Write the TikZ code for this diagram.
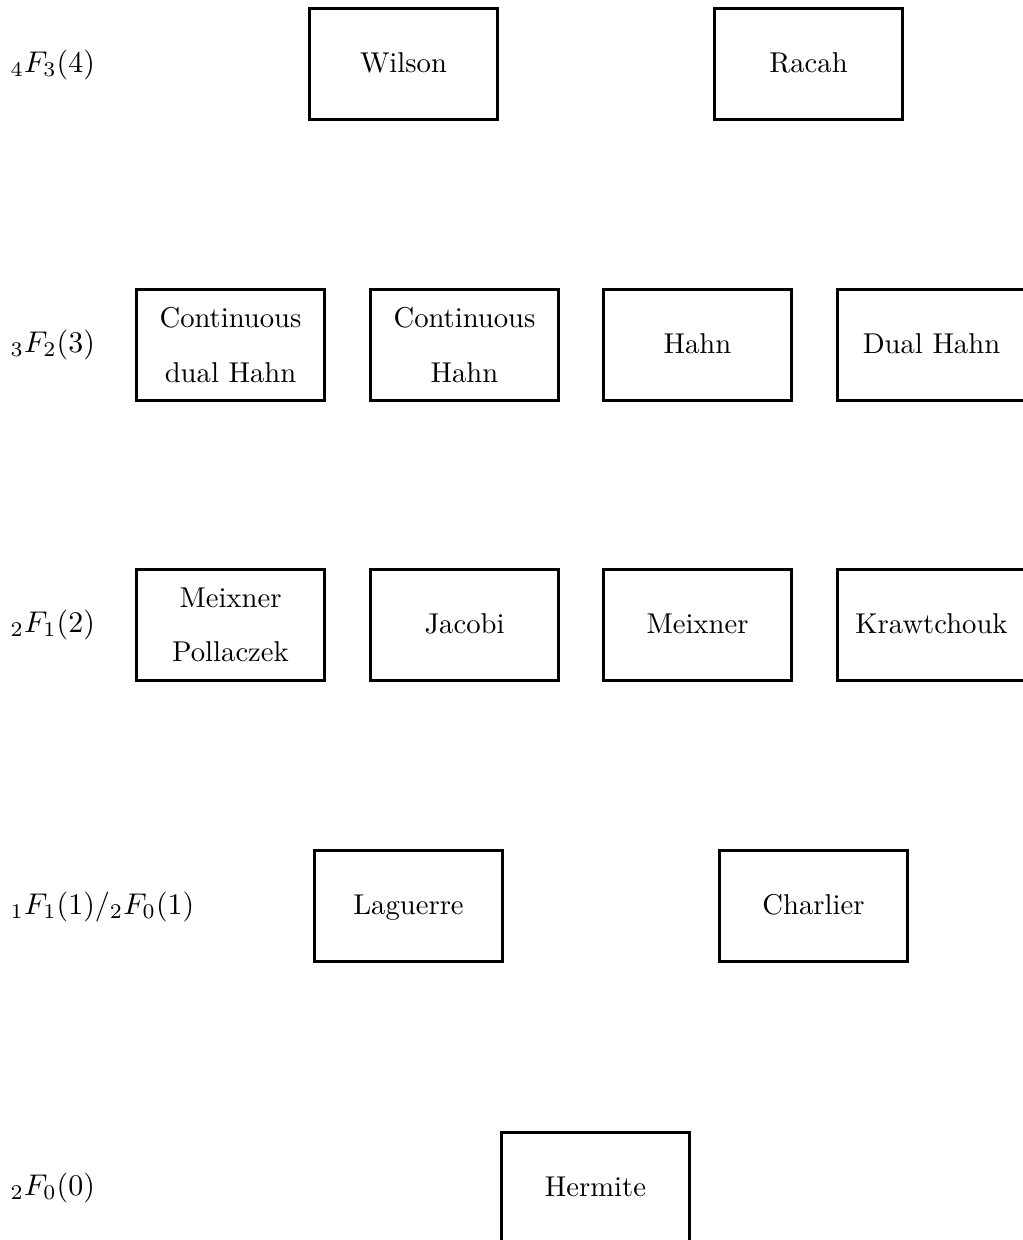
\documentclass[tikz,border=0pt]{standalone}
\usepackage{amsmath}
\usepackage{amssymb}
\usepackage{tikz}
\usetikzlibrary{positioning}

\tikzset{
  family/.style={draw=black,line width=1pt,minimum width=65.6pt,minimum height=38.7pt,
    align=center,inner sep=2pt},
  single/.style={family,text height=1.55ex,text depth=.25ex},
  level/.style={anchor=west,inner sep=0pt,scale=1.045},
}

\begin{document}
\begin{tikzpicture}[x=0.349pt,y=-0.349pt]
        \useasboundingbox (0,0) rectangle (1023,1240);
        % row labels
        \node[level] (l4) at (10,65) {$_4F_3(4)$};
        \node[level] (l3) at (10,345) {$_3F_2(3)$};
        \node[level] (l2) at (10,625) {$_2F_1(2)$};
        \node[level] (l1) at (10,907) {$_1F_1(1)/_2F_0(1)$};
        \node[level] (l0) at (10,1188) {$_2F_0(0)$};
        % 4F3
        \node[single] (wilson) at (403.5,64) {Wilson};
        \node[single] (racah) at (808.5,64) {Racah};
        % 3F2
        \node[family] (cdhahn) at (230.5,345) {Continuous\\[7pt]dual Hahn};
        \node[family] (chahn) at (464.5,345) {Continuous\\[7pt]Hahn};
        \node[single] (hahn) at (697.5,345) {Hahn};
        \node[single] (dhahn) at (931.5,345) {Dual Hahn};
        % 2F1
        \node[family] (mp) at (230.5,625) {Meixner\\[7pt]Pollaczek};
        \node[single] (jacobi) at (464.5,625) {Jacobi};
        \node[single] (meixner) at (697.5,625) {Meixner};
        \node[single] (kraw) at (931.5,625) {Krawtchouk};
        % 1F1 / 2F0
        \node[single] (laguerre) at (408.5,906) {Laguerre};
        \node[single] (charlier) at (813.5,906) {Charlier};
        % 2F0
        \node[single] (hermite) at (595.5,1188) {Hermite};
      \end{tikzpicture}
\end{document}
